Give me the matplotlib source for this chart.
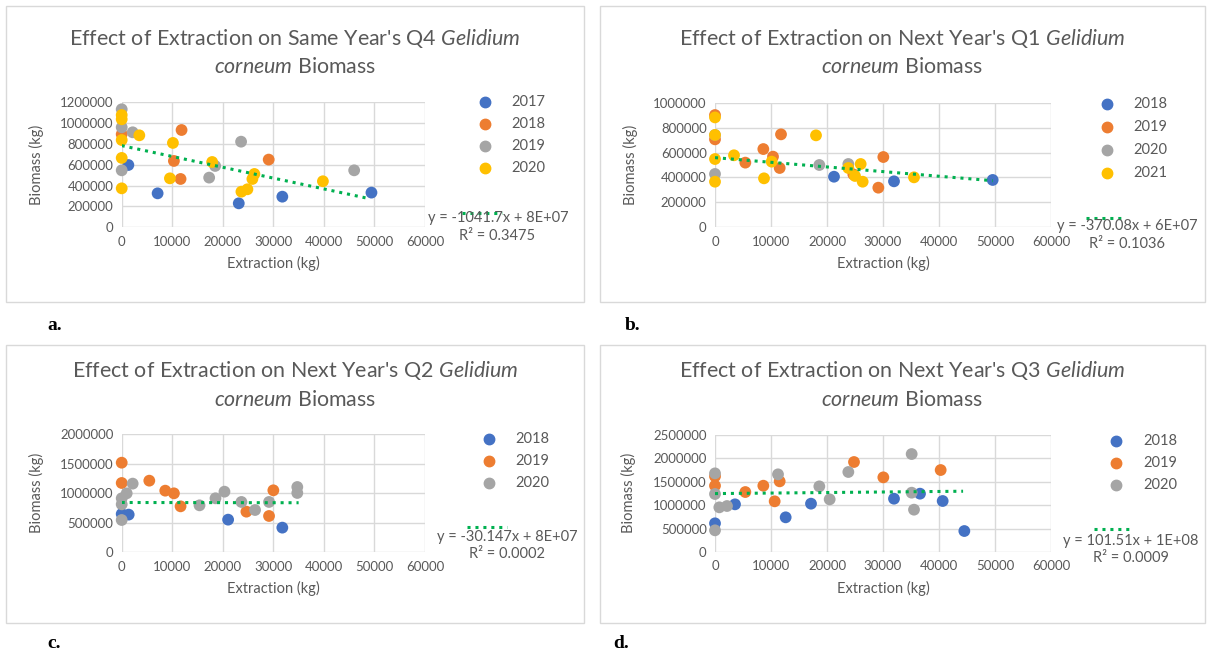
import numpy as np
import matplotlib
matplotlib.use("Agg")
import matplotlib.pyplot as plt
from matplotlib.patches import Rectangle
from matplotlib.lines import Line2D

plt.rcParams["font.family"] = ["Lato", "DejaVu Sans"]
plt.rcParams["mathtext.fontset"] = "custom"
plt.rcParams["mathtext.rm"] = "Lato"
plt.rcParams["mathtext.it"] = "Lato:italic"

GREY_TXT = "#595959"
GRID = "#D9D9D9"
COLORS = ["#4472C4", "#ED7D31", "#A5A5A5", "#FFC000"]

# ---- panel a: same year's Q4 ----
a_years = ["2017", "2018", "2019", "2020"]
a_x = [
    [1316, 7105, 23158, 31776, 49408],
    [0, 11842, 10329, 11645, 29079],
    [0, 0, 2171, 0, 23618, 17303, 18487, 45987],
    [0, 0, 0, 3487, 10132, 0, 9539, 0, 17895, 23684, 24868, 26250, 25855, 39803],
]
a_y = [
    [598000, 326000, 230000, 294000, 333000],
    [893000, 934000, 637000, 464000, 650000],
    [1133000, 960000, 912000, 547000, 822000, 477000, 589000, 547000],
    [1078000, 1037000, 838000, 883000, 810000, 666000, 470000, 374000, 627000,
     342000, 365000, 512000, 464000, 442000],
]
a_trend_x = [0, 48700]
a_trend_y = [784000, 278000]
a_eq = ["y = -1041.7x + 8E+07", "R² = 0.3475"]

# ---- panel b: next year's Q1 ----
b_years = ["2018", "2019", "2020", "2021"]
b_x = [
    [21250, 31964, 49583],
    [0, 0, 5417, 8631, 10357, 11548, 11786, 24702, 29167, 30060],
    [0, 0, 18631, 23810],
    [0, 0, 0, 0, 3393, 8750, 10119, 18036, 23810, 25000, 26012, 26369, 35536],
]
b_y = [
    [406000, 369000, 380000],
    [901000, 706000, 519000, 628000, 567000, 476000, 746000, 425000, 318000, 564000],
    [428000, 741000, 500000, 508000],
    [882000, 741000, 548000, 366000, 578000, 393000, 527000, 738000, 476000,
     412000, 508000, 366000, 401000],
]
b_trend_x = [0, 49600]
b_trend_y = [559000, 374000]
b_eq = ["y = -370.08x + 6E+07", "R² = 0.1036"]

# ---- panel c: next year's Q2 ----
c_years = ["2018", "2019", "2020"]
c_x = [
    [0, 1382, 21053, 31776],
    [0, 0, 5461, 8618, 10329, 11645, 24671, 29145, 30000],
    [0, 0, 0, 987, 2171, 15395, 18553, 20329, 23684, 26382, 29145, 34737, 34737],
]
c_y = [
    [648000, 637000, 552000, 417000],
    [1515000, 1172000, 1211000, 1042000, 997000, 777000, 687000, 614000, 1048000],
    [546000, 811000, 913000, 997000, 1161000, 794000, 913000, 1025000, 851000,
     715000, 851000, 1104000, 1003000],
]
c_trend_x = [0, 35000]
c_trend_y = [842000, 838000]
c_eq = ["y = -30.147x + 8E+07", "R² = 0.0002"]

# ---- panel d: next year's Q3 ----
d_years = ["2018", "2019", "2020"]
d_x = [
    [0, 3571, 12619, 17143, 31964, 36607, 40655, 44524],
    [0, 0, 5417, 8631, 10655, 11548, 24821, 30060, 40298],
    [0, 0, 0, 774, 2143, 11250, 18631, 20476, 23810, 35119, 35119, 35536],
]
d_y = [
    [611000, 1016000, 739000, 1030000, 1136000, 1243000, 1087000, 447000],
    [1612000, 1413000, 1278000, 1413000, 1080000, 1506000, 1918000, 1591000, 1747000],
    [1676000, 1236000, 462000, 952000, 980000, 1655000, 1399000, 1122000, 1705000,
     2088000, 1264000, 902000],
]
d_trend_x = [0, 44300]
d_trend_y = [1245000, 1295000]
d_eq = ["y = 101.51x + 1E+08", "R² = 0.0009"]

W, H = 1208, 654
fig = plt.figure(figsize=(W / 100, H / 100), dpi=100)


def fx(px):
    return px / W


def fy(py):
    return 1 - py / H


def make_panel(frame, axbox, ymax, ystep, title, years, xs, ys, trend, eq,
               leg, eqpos, dots, ylab_x, letter):
    l, t, r, b = frame
    fig.patches.append(Rectangle((fx(l), fy(b)), fx(r - l), (b - t) / H,
                                 transform=fig.transFigure, fill=False,
                                 edgecolor=GRID, linewidth=1.0))
    cx = (l + r) / 2
    fig.text(fx(cx), fy(title[2]), title[0], ha="center", va="center",
             fontsize=15.4, color=GREY_TXT)
    fig.text(fx(cx), fy(title[3]), title[1], ha="center", va="center",
             fontsize=15.4, color=GREY_TXT)

    al, at, ar, ab = axbox
    ax = fig.add_axes([fx(al), fy(ab), fx(ar - al), (ab - at) / H])
    for i, yr in enumerate(years):
        ax.scatter(xs[i], ys[i], s=72, color=COLORS[i], zorder=3,
                   edgecolors="none", clip_on=False)
    ax.plot(trend[0], trend[1], color="#00B050", linestyle=(0, (1, 1.6)),
            linewidth=2.2, zorder=4)

    ax.set_xlim(0, 60000)
    ax.set_ylim(0, ymax)
    ax.set_xticks(np.arange(0, 60001, 10000))
    ax.set_yticks(np.arange(0, ymax + 1, ystep))
    ax.yaxis.set_major_formatter(matplotlib.ticker.FuncFormatter(lambda v, p: "%d" % v))
    ax.grid(True, color=GRID, linewidth=1.0, zorder=0)
    ax.set_axisbelow(True)
    for s in ax.spines.values():
        s.set_visible(False)
    ax.tick_params(length=0, labelsize=9.5, colors=GREY_TXT, pad=6)
    ax.set_xlabel("Extraction (kg)", fontsize=10.5, color=GREY_TXT, labelpad=6)
    fig.text(fx(ylab_x), fy((at + ab) / 2), "Biomass (kg)", rotation=90,
             ha="center", va="center", fontsize=10.5, color=GREY_TXT)

    # legend
    mx, tx, y0, dy = leg
    for i, yr in enumerate(years):
        fig.add_artist(Line2D([fx(mx)], [fy(y0 + i * dy)], marker="o",
                              markersize=7.5, color=COLORS[i], linestyle="none",
                              transform=fig.transFigure))
        fig.text(fx(tx), fy(y0 + i * dy), yr, ha="left", va="center",
                 fontsize=10.5, color=GREY_TXT)
    # trendline label
    fig.add_artist(Line2D([fx(dots[0]), fx(dots[1])], [fy(dots[2])] * 2,
                          color="#00B050", linestyle=(0, (1, 1.6)), linewidth=2.2,
                          transform=fig.transFigure))
    fig.text(fx(eqpos[0]), fy(eqpos[1]), eq[0], ha="center", va="center",
             fontsize=10.5, color=GREY_TXT)
    fig.text(fx(eqpos[2]), fy(eqpos[3]), eq[1], ha="center", va="center",
             fontsize=10.5, color=GREY_TXT)
    fig.text(fx(letter[1]), fy(letter[2]), letter[0], ha="left", va="center",
             fontsize=14, fontweight="bold", family="Liberation Serif")
    return ax


make_panel((6, 6, 584, 302), (121.7, 102.3, 425, 227.3), 1200000, 200000,
           ("Effect of Extraction on Same Year's Q4 $\\mathit{Gelidium}$",
            "$\\mathit{corneum}$ Biomass", 39, 67),
           a_years, a_x, a_y, (a_trend_x, a_trend_y), a_eq,
           (485, 511, 102, 22), (498, 218, 497, 236.5),
           (462, 502, 213), 36, ("a.", 47, 325))

make_panel((600, 6, 1205, 302), (715, 102.7, 1051, 227.3), 1000000, 200000,
           ("Effect of Extraction on Next Year's Q1 $\\mathit{Gelidium}$",
            "$\\mathit{corneum}$ Biomass", 39, 67),
           b_years, b_x, b_y, (b_trend_x, b_trend_y), b_eq,
           (1107, 1133, 104, 23), (1127, 226, 1127, 244),
           (1086, 1125, 218), 630, ("b.", 625, 325))

make_panel((6, 345, 584, 623), (121.7, 434, 425, 552.3), 2000000, 500000,
           ("Effect of Extraction on Next Year's Q2 $\\mathit{Gelidium}$",
            "$\\mathit{corneum}$ Biomass", 370, 400),
           c_years, c_x, c_y, (c_trend_x, c_trend_y), c_eq,
           (489, 515, 439, 22), (507, 537, 507, 554.5),
           (467, 507, 527), 36, ("c.", 47, 643))

make_panel((600, 345, 1205, 623), (715, 434.7, 1051, 552), 2500000, 500000,
           ("Effect of Extraction on Next Year's Q3 $\\mathit{Gelidium}$",
            "$\\mathit{corneum}$ Biomass", 370, 400),
           d_years, d_x, d_y, (d_trend_x, d_trend_y), d_eq,
           (1116, 1143, 441, 22.2), (1131, 541, 1131, 558),
           (1094, 1133, 529), 628, ("d.", 613, 643))

fig.savefig("out.png", dpi=100)
